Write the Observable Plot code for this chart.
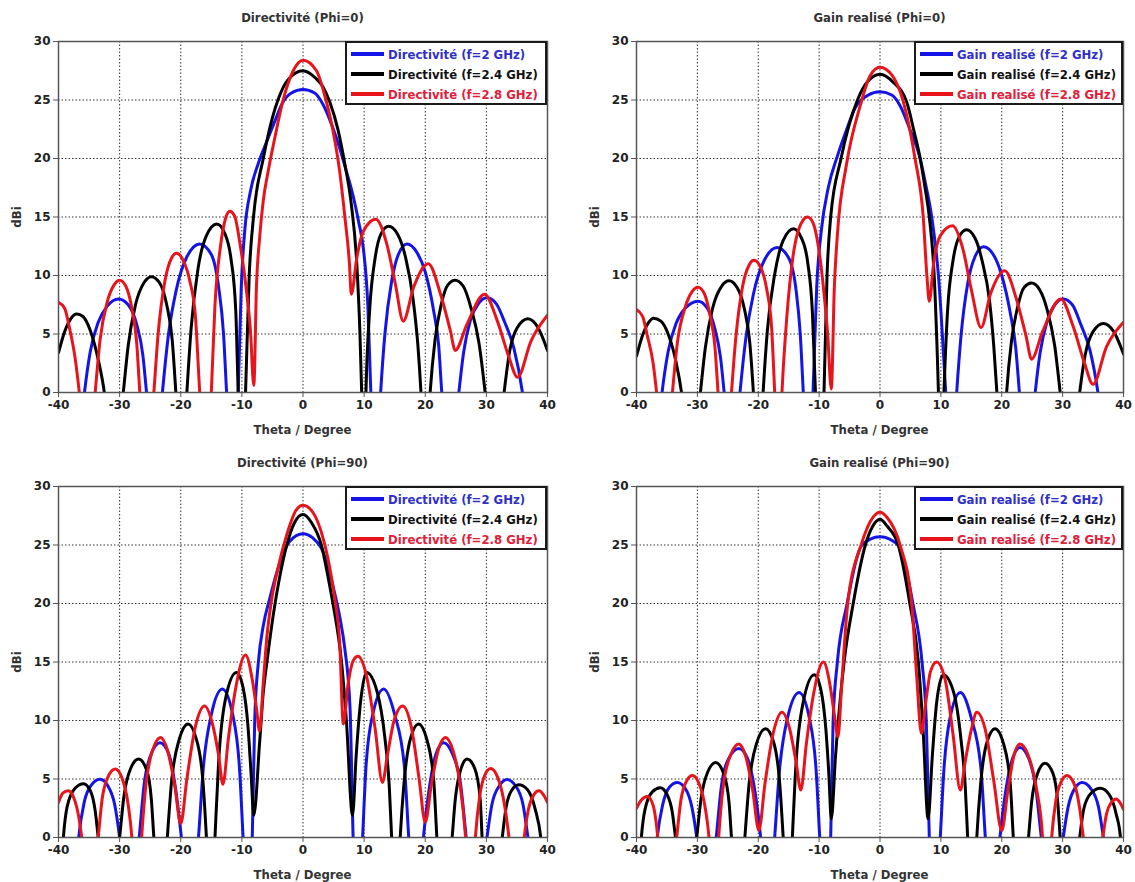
<!DOCTYPE html>
<html>
<head>
<meta charset="utf-8">
<script src="https://cdn.jsdelivr.net/npm/d3@7"></script>
<script src="https://cdn.jsdelivr.net/npm/@observablehq/plot@0.6"></script>
<style>
  body { margin: 0; background: #fff; }
  #root { position: relative; width: 1135px; height: 882px; background: #fff; overflow: hidden; }
  .panel { position: absolute; }
  .lbl { position: absolute; font-family: "DejaVu Sans Condensed", "DejaVu Sans", sans-serif; font-weight: bold; font-size: 13px; color: #333; white-space: nowrap; transform: translate(-50%, -50%); }
  .ylbl { transform: translate(-50%, -50%) rotate(-90deg); }
  .legend { position: absolute; background: #fff; border: 2px solid #1a1a1a; box-sizing: border-box; font-family: "DejaVu Sans Condensed", "DejaVu Sans", sans-serif; font-weight: bold; font-size: 13px; white-space: nowrap; }
  .row { position: absolute; left: 4px; height: 18px; display: flex; align-items: center; }
  .sw { display: inline-block; width: 33px; height: 4px; margin-right: 4px; }
</style>
</head>
<body>
<div id="root"></div>
<script>
// ---------- data (theta in degrees, value in dBi; values below 0 are clipped by the axis) ----------
const xTicks = [-40, -30, -20, -10, 0, 10, 20, 30, 40];
const yTicks = [0, 5, 10, 15, 20, 25, 30];
const freqLabels = ["f=2 GHz", "f=2.4 GHz", "f=2.8 GHz"];
const panelTitles = ["Directivité (Phi=0)", "Gain realisé (Phi=0)", "Directivité (Phi=90)", "Gain realisé (Phi=90)"];
const legendPrefixes = ["Directivité", "Gain realisé", "Directivité", "Gain realisé"];
const xAxisLabel = "Theta / Degree";
const yAxisLabel = "dBi";

// Panel 1: Directivité, Phi=0
const dirPhi0_2GHz = [[-40,-8],[-37.5,-10],[-35.75,0],[-34.8,3.5],[-33.5,6.0],[-32,7.4],[-30.2,8.0],[-28.6,7.5],[-27.2,5.8],[-26.2,3.2],[-25.6,0],[-24.3,-8],[-23.0,0],[-22.0,5.0],[-20.8,8.6],[-19.0,11.6],[-16.9,12.7],[-15.0,11.8],[-13.8,9.0],[-13.0,5.0],[-12.5,0],[-11.6,-8],[-10.6,0],[-10.1,9],[-9.5,14],[-8.6,17.2],[-7.3,19.6],[-5.9,21.5],[-4.6,23.2],[-3.3,24.8],[-1.9,25.6],[0,25.9],[1.9,25.6],[3.3,24.6],[4.9,22.6],[6.0,20.9],[7.1,18.9],[8.2,16.8],[9.1,14.6],[9.9,12.2],[10.6,7.5],[11.1,0],[11.9,-8],[12.7,0],[13.4,5.0],[14.5,9.5],[15.6,11.8],[17.0,12.7],[18.6,12.0],[20.0,10.3],[21.4,6.9],[22.2,4.0],[22.7,0],[24.1,-8],[25.5,0],[26.3,3.5],[27.4,6.2],[28.7,7.6],[30.1,8.1],[31.6,7.6],[33.0,6.0],[34.5,3.8],[35.9,0],[37.5,-8],[40,-8]];
const dirPhi0_24GHz = [[-40,3.4],[-39,5.2],[-38,6.3],[-37.0,6.7],[-36,6.5],[-34.8,5.3],[-33.5,2.8],[-32.5,0],[-31,-8],[-29.4,0],[-28.6,4.0],[-27.4,7.5],[-26,9.4],[-24.8,9.9],[-23.5,9.4],[-22.3,7.5],[-21.4,4.5],[-20.8,0],[-19.9,-8],[-19.0,0],[-18.3,5.5],[-17.2,10.5],[-15.8,13.4],[-14.1,14.4],[-12.8,13.6],[-11.8,11.5],[-11.0,7.0],[-10.6,0],[-10.0,-8],[-9.4,0],[-8.8,10],[-8.1,15],[-6.5,20],[-5.0,23.5],[-4.1,25],[-2.5,26.7],[0,27.5],[2.0,26.9],[3.3,26.1],[4.4,24.8],[5.75,22.4],[6.85,19.5],[7.9,16.1],[8.8,11],[9.3,5.3],[9.6,0],[10.0,-8],[10.3,0],[10.9,7],[11.8,11.5],[12.8,13.6],[14.0,14.2],[15.5,13.5],[16.8,11.5],[18.0,8.0],[18.8,4.0],[19.3,0],[20.0,-8],[20.8,0],[21.6,4.5],[22.6,7.5],[23.7,9.2],[24.9,9.6],[26.2,9.1],[27.5,7.2],[28.8,4.2],[29.8,0],[31.3,-8],[32.9,0],[33.8,3.5],[35.0,5.5],[36.8,6.3],[38.5,5.5],[40,3.6]];
const dirPhi0_28GHz = [[-40,7.7],[-39,7.2],[-38.2,5.5],[-37.3,3.0],[-36.6,0],[-35.3,-8],[-34.0,0],[-33.2,4.5],[-32.0,7.8],[-30.9,9.2],[-30.0,9.6],[-29,9.1],[-28.0,7.2],[-27.2,4.2],[-26.7,0],[-25.5,-8],[-24.4,0],[-23.7,5.0],[-22.6,9.5],[-21.5,11.5],[-20.7,11.9],[-19.6,11.3],[-18.5,9.5],[-17.6,6.5],[-16.9,0],[-16.0,-8],[-15.0,0],[-14.4,7.5],[-13.5,12.5],[-12.6,15.0],[-12.0,15.5],[-11.2,15.1],[-10.3,12.7],[-9.25,8.7],[-8.6,5.3],[-8.05,0.6],[-7.6,9.3],[-7.1,13.2],[-6.5,16.4],[-5.7,18.9],[-4.6,21.8],[-3.3,24.9],[-1.6,27.5],[0,28.4],[2.2,27.5],[3.8,24.9],[4.9,22.4],[6.0,18.9],[6.85,15],[7.6,11],[7.9,8.4],[8.8,11.5],[9.9,13.8],[11.9,14.8],[13.7,12.7],[15.1,9.3],[16.4,6.1],[18.1,9.0],[20.5,11.0],[22.5,8.4],[24.1,5.3],[24.9,3.6],[26.8,5.8],[29.7,8.4],[31.8,6.1],[33.7,3.0],[35.1,1.3],[37.3,4.4],[40,6.6]];

// Panel 2: Gain realisé, Phi=0
const gainPhi0_2GHz = [[-40,-8],[-37.5,-10],[-35.8,0],[-34.8,3.5],[-33.5,5.9],[-32,7.2],[-29.9,7.8],[-28.5,7.3],[-27.2,5.6],[-26.2,3.0],[-25.6,0],[-24.3,-8],[-23.0,0],[-22.0,4.8],[-20.8,8.4],[-19.0,11.3],[-16.9,12.4],[-15.0,11.5],[-13.8,8.8],[-13.1,5.0],[-12.6,0],[-11.8,-8],[-11.0,0],[-10.4,9],[-9.6,14],[-8.5,17.5],[-7.0,20.2],[-5.6,22.3],[-4.2,24.2],[-2,25.4],[0,25.7],[2,25.4],[3.3,24.5],[4.9,22.5],[6.6,20],[7.5,17.8],[8.5,15],[9.6,10],[10.8,0],[11.7,-8],[12.6,0],[13.3,4.8],[14.4,9.3],[15.6,11.6],[17.0,12.45],[18.6,11.8],[20.0,10.0],[21.4,6.8],[22.3,3.8],[22.9,0],[24.2,-8],[25.5,0],[26.3,3.4],[27.4,6.0],[28.7,7.5],[30.1,8.0],[31.6,7.5],[33.0,5.8],[34.5,3.6],[35.8,0],[37.5,-8],[40,-8]];
const gainPhi0_24GHz = [[-40,3.1],[-39,4.9],[-38,6.0],[-37.2,6.35],[-36,6.1],[-34.8,5.0],[-33.5,2.6],[-32.6,0],[-31,-8],[-29.5,0],[-28.7,3.8],[-27.5,7.2],[-26,9.1],[-24.8,9.55],[-23.5,9.0],[-22.3,7.2],[-21.4,4.3],[-20.8,0],[-20.0,-8],[-19.2,0],[-18.5,5.3],[-17.3,10.1],[-15.9,13.0],[-14.2,14.0],[-12.9,13.2],[-11.9,11.2],[-11.1,6.8],[-10.6,0],[-9.9,-8],[-9.2,0],[-8.7,10],[-8.1,15],[-6.4,20],[-3.7,25],[-2,26.6],[0,27.2],[2.2,26.5],[4.4,24.8],[5.6,22.3],[6.6,20],[7.4,17.5],[8.1,15],[8.9,10],[9.6,0],[10.0,-8],[10.5,0],[11.1,7],[12.0,11.3],[13.0,13.3],[14.2,13.9],[15.6,13.2],[16.8,11.2],[18.0,7.8],[18.7,3.9],[19.2,0],[20.0,-8],[20.8,0],[21.6,4.4],[22.6,7.3],[23.7,9.0],[24.9,9.35],[26.2,8.8],[27.5,7.0],[28.7,4.0],[29.6,0],[31.2,-8],[32.8,0],[33.7,3.2],[35.0,5.2],[36.7,5.9],[38.4,5.2],[40,3.3]];
const gainPhi0_28GHz = [[-40,7.1],[-39,6.5],[-38.2,4.8],[-37.3,2.6],[-36.7,0],[-35.4,-8],[-34.1,0],[-33.3,4.2],[-32,7.3],[-30.9,8.6],[-29.9,9.0],[-28.9,8.5],[-28,6.8],[-27.1,3.8],[-26.6,0],[-25.5,-8],[-24.4,0],[-23.7,4.6],[-22.6,9.0],[-21.5,10.9],[-20.7,11.3],[-19.6,10.7],[-18.6,8.8],[-17.8,5.5],[-17.3,0],[-16.7,-8],[-16.1,0],[-15.3,6.5],[-14.3,11.6],[-12.8,14.6],[-11.9,15.0],[-11.0,14.5],[-10.1,12.4],[-9.2,8.5],[-8.6,5.0],[-8.0,0.3],[-7.5,9],[-7.0,13.5],[-5.5,19.5],[-3.2,24.6],[-1.6,27.1],[0,27.8],[2.0,27.1],[3.8,24.9],[5.75,20],[7.1,15],[7.7,10],[8.1,7.8],[8.8,11],[9.9,13.4],[11.9,14.25],[13.6,12.3],[15.0,8.8],[16.6,5.55],[18.2,8.5],[20.5,10.4],[22.4,8.0],[24.0,4.8],[24.9,2.85],[26.7,5.2],[29.7,8.0],[31.7,5.7],[33.6,2.5],[35.0,0.7],[37.2,3.9],[40,6.0]];

// Panel 3: Directivité, Phi=90
const dirPhi90_2GHz = [[-40,-8],[-38,-10],[-36.7,0],[-35.8,3.0],[-34.6,4.5],[-33.2,4.98],[-31.9,4.4],[-30.8,2.8],[-30.0,0],[-28.5,-8],[-26.8,0],[-26.0,4.5],[-24.8,7.2],[-23.4,8.1],[-22.0,7.2],[-20.8,4.0],[-19.9,0],[-18.5,-8],[-17.1,0],[-16.3,6.0],[-15.0,10.5],[-13.2,12.7],[-11.5,10.5],[-10.4,6.0],[-9.8,0],[-9.0,-8],[-8.3,0],[-7.9,10],[-7.3,15],[-6.5,18.1],[-5.5,20.3],[-4.2,22.8],[-2.2,25.3],[0,25.96],[1.6,25.6],[3.3,24.4],[4.9,21.5],[6.0,18.9],[6.85,16.1],[7.7,11],[8.2,0],[9.0,-8],[9.75,0],[10.3,6.0],[11.4,10.5],[13.2,12.7],[15.0,10.5],[16.6,6.0],[17.3,0],[18.5,-8],[19.7,0],[20.6,4.0],[21.8,7.2],[23.0,8.1],[24.4,7.2],[25.8,4.5],[26.7,0],[28.5,-8],[30.1,0],[30.9,2.8],[32.1,4.4],[33.4,4.95],[34.8,4.4],[36.0,2.8],[36.8,0],[38.5,-8],[40,-8]];
const dirPhi90_24GHz = [[-40,-8],[-39.2,0],[-38.6,2.6],[-37.3,4.2],[-35.9,4.6],[-34.8,4.0],[-34.0,2.3],[-33.5,0],[-31.8,-8],[-30.0,0],[-29.3,3.5],[-28.2,5.9],[-26.9,6.7],[-25.6,5.8],[-24.8,3.2],[-24.4,0],[-23.3,-8],[-22.2,0],[-21.5,4.8],[-20.3,8.3],[-18.8,9.7],[-17.5,8.5],[-16.4,5.0],[-15.8,0],[-15.1,-8],[-14.4,0],[-13.8,6.5],[-12.7,11.8],[-10.9,14.1],[-9.8,12.8],[-9.0,9.5],[-8.5,5.5],[-8.05,1.9],[-7.1,8.1],[-6.5,12.4],[-5.9,15],[-4.9,18.9],[-3.8,22.3],[-2.7,24.9],[-1.4,26.9],[0,27.6],[1.4,26.9],[3.0,25],[4.2,22],[4.9,20],[6.3,15],[7.1,10],[8.1,1.9],[8.7,7],[9.4,11.5],[10.4,14.1],[12.1,12.5],[13.4,8.5],[14.1,4.5],[14.5,0],[15.2,-8],[15.9,0],[16.5,4.5],[17.6,8.5],[18.9,9.7],[20.3,8.3],[21.4,4.8],[21.9,0],[23.1,-8],[24.4,0],[24.9,3.2],[25.8,5.8],[26.85,6.7],[28.1,5.9],[29.0,3.2],[29.3,0],[31.0,-8],[32.6,0],[33.2,2.5],[34.1,4.0],[35.3,4.5],[36.7,4.1],[38.0,2.4],[38.9,0],[40,-8]];
const dirPhi90_28GHz = [[-40,3.0],[-39.3,3.8],[-38.4,4.0],[-37.5,3.4],[-36.7,1.8],[-36.2,0],[-34.8,-8],[-33.5,0],[-32.8,3.5],[-31.7,5.4],[-30.7,5.85],[-29.7,5.2],[-28.6,2.8],[-28.0,0],[-27.2,-8],[-26.4,0],[-25.7,4.5],[-24.5,7.6],[-23.3,8.55],[-22.2,7.5],[-21.0,4.5],[-20.0,1.2],[-19.0,5.0],[-17.6,9.5],[-16.1,11.25],[-14.8,9.7],[-13.8,7.0],[-13.1,4.55],[-12.2,8.5],[-11.0,12.8],[-9.4,15.6],[-8.3,13.5],[-7.6,11.0],[-7.1,9.1],[-6.5,13.2],[-5.9,17.2],[-5.2,20.1],[-4.1,23],[-2.7,25.8],[-1.1,28],[0,28.4],[1.6,27.8],[3.0,26.1],[4.1,23.8],[5.2,20.4],[6.0,16.7],[6.6,9.7],[7.4,13.2],[8.2,15.1],[9.0,15.5],[10.4,13.8],[11.8,9.3],[13.0,4.7],[13.8,7.0],[14.9,10.0],[16.3,11.25],[17.7,9.5],[19.0,5.0],[20.0,1.3],[21.0,4.5],[22.2,7.6],[23.3,8.55],[24.5,7.5],[25.7,4.5],[26.6,0],[27.4,-8],[28.2,0],[28.9,3.5],[29.8,5.4],[30.7,5.9],[31.8,5.2],[32.9,3.0],[33.7,0],[35.0,-8],[36.2,0],[36.8,2.2],[37.7,3.6],[38.6,4.0],[39.4,3.6],[40,3.0]];

// Panel 4: Gain realisé, Phi=90
const gainPhi90_2GHz = [[-40,-8],[-38,-10],[-36.6,0],[-35.7,2.8],[-34.6,4.3],[-33.3,4.7],[-32.0,4.2],[-30.9,2.6],[-30.1,0],[-28.5,-8],[-26.9,0],[-26.1,4.2],[-24.8,6.8],[-23.2,7.6],[-21.8,6.8],[-20.5,3.8],[-19.6,0],[-18.4,-8],[-17.3,0],[-16.5,5.8],[-15.2,10.2],[-13.3,12.4],[-11.6,10.2],[-10.5,5.8],[-9.9,0],[-9.0,-8],[-8.1,0],[-7.7,10],[-7.0,15],[-5.4,20],[-3.2,24.8],[-1.6,25.5],[0,25.7],[1.6,25.5],[3.2,24.8],[5.4,20],[6.9,15],[7.6,10],[8.1,0],[9.0,-8],[9.9,0],[10.5,5.8],[11.5,10.2],[13.2,12.4],[15.0,10.2],[16.6,5.8],[17.3,0],[18.5,-8],[19.7,0],[20.6,3.8],[21.8,6.8],[23.0,7.7],[24.4,6.8],[25.6,4.2],[26.5,0],[28.3,-8],[30.1,0],[30.9,2.6],[32.0,4.2],[33.2,4.7],[34.6,4.2],[35.9,2.6],[36.7,0],[38.5,-8],[40,-8]];
const gainPhi90_24GHz = [[-40,-8],[-39.2,0],[-38.6,2.4],[-37.4,3.9],[-36.1,4.25],[-35.0,3.7],[-34.1,2.1],[-33.6,0],[-31.8,-8],[-30.1,0],[-29.4,3.3],[-28.3,5.6],[-27.0,6.4],[-25.7,5.5],[-24.8,3.0],[-24.4,0],[-23.3,-8],[-22.2,0],[-21.5,4.6],[-20.3,8.0],[-18.8,9.3],[-17.5,8.2],[-16.5,4.8],[-15.9,0],[-15.1,-8],[-14.4,0],[-13.8,6.3],[-12.6,11.6],[-10.8,13.9],[-9.7,12.6],[-8.9,9.3],[-8.4,5.4],[-8.0,1.6],[-7.3,7],[-6.5,12],[-5.9,15],[-4.4,20],[-2.4,25],[-1.2,26.6],[0,27.2],[1.2,26.6],[3.0,25],[4.9,20],[6.3,15],[7.1,9],[7.9,1.6],[8.6,7],[9.3,11.5],[10.4,13.9],[12.1,12.4],[13.3,8.4],[14.0,4.4],[14.4,0],[15.2,-8],[15.9,0],[16.5,4.4],[17.6,8.2],[18.9,9.3],[20.3,8.0],[21.4,4.6],[21.9,0],[23.1,-8],[24.4,0],[24.9,3.0],[25.9,5.5],[27.1,6.35],[28.4,5.5],[29.2,3.0],[29.6,0],[31.2,-8],[32.8,0],[33.5,2.5],[34.7,3.8],[36.2,4.2],[37.6,3.7],[38.8,2.0],[39.5,0],[40,-8]];
const gainPhi90_28GHz = [[-40,2.5],[-39.2,3.2],[-38.2,3.5],[-37.3,2.8],[-36.8,1.4],[-36.5,0],[-35.0,-8],[-33.4,0],[-32.7,3.2],[-31.7,4.9],[-30.8,5.3],[-29.8,4.7],[-28.7,2.5],[-28.1,0],[-27.3,-8],[-26.5,0],[-25.8,4.2],[-24.5,7.1],[-23.2,8.0],[-22.1,7.0],[-20.9,4.0],[-19.9,0.6],[-18.9,4.6],[-17.5,9.0],[-16.1,10.7],[-14.8,9.2],[-13.8,6.5],[-13.0,4.05],[-12.1,8.0],[-10.9,12.3],[-9.3,15.0],[-8.2,13.0],[-7.5,10.5],[-6.9,8.6],[-6.3,13],[-5.3,20],[-3.1,25],[-1.1,27.4],[0,27.8],[1.1,27.4],[3.3,25],[5.2,20],[6.0,14],[6.8,8.9],[7.5,11.5],[8.3,14.2],[9.3,15.0],[10.7,13.5],[12.0,8.8],[13.2,4.05],[14.0,6.5],[15.0,9.2],[15.9,10.7],[17.3,9.2],[18.7,4.8],[20.0,0.6],[21.0,4.0],[22.0,7.0],[23.0,8.0],[24.3,7.1],[25.7,4.2],[26.7,0],[27.4,-8],[28.2,0],[28.9,3.2],[29.8,4.8],[30.7,5.3],[31.8,4.7],[32.8,2.5],[33.4,0],[35.0,-8],[36.6,0],[37.2,2.0],[38.0,3.0],[38.8,3.3],[39.4,3.0],[40,2.4]];

const panelSeries = [
  [dirPhi0_2GHz, dirPhi0_24GHz, dirPhi0_28GHz],
  [gainPhi0_2GHz, gainPhi0_24GHz, gainPhi0_28GHz],
  [dirPhi90_2GHz, dirPhi90_24GHz, dirPhi90_28GHz],
  [gainPhi90_2GHz, gainPhi90_24GHz, gainPhi90_28GHz]
];

// ---------- styling / layout ----------
const lineColors = ["#1414e6", "#000000", "#e8141c"];
const textColors = ["#3030c8", "#111111", "#e0203a"];

const layout = [
  {left: 0,   top: 0,   w: 567, h: 441, ml: 58, mr: 20, mt: 41, mb: 49},
  {left: 567, top: 0,   w: 568, h: 441, ml: 69, mr: 12, mt: 41, mb: 49},
  {left: 0,   top: 445, w: 567, h: 437, ml: 58, mr: 20, mt: 41, mb: 45},
  {left: 567, top: 445, w: 568, h: 437, ml: 69, mr: 12, mt: 41, mb: 45}
];

const root = document.getElementById("root");

function addLabel(text, x, y, cls) {
  const d = document.createElement("div");
  d.className = "lbl" + (cls ? " " + cls : "");
  d.textContent = text;
  d.style.left = x + "px";
  d.style.top = y + "px";
  root.appendChild(d);
}

layout.forEach((L, p) => {
  const series = panelSeries[p];
  const chart = Plot.plot({
    width: L.w, height: L.h,
    marginLeft: L.ml, marginRight: L.mr, marginTop: L.mt, marginBottom: L.mb,
    style: {fontFamily: "'DejaVu Sans', sans-serif", fontSize: "12px", fontWeight: "bold", color: "#222", background: "transparent", overflow: "visible"},
    x: {domain: [-40, 40]},
    y: {domain: [0, 30]},
    marks: [
      Plot.gridX(xTicks, {stroke: "#333", strokeOpacity: 1, strokeWidth: 1, strokeDasharray: "1.5,2"}),
      Plot.gridY(yTicks, {stroke: "#333", strokeOpacity: 1, strokeWidth: 1, strokeDasharray: "1.5,2"}),
      Plot.axisX(xTicks, {tickSize: 5, tickPadding: 3, tickFormat: d => String(d), label: null, stroke: "#555"}),
      Plot.axisY(yTicks, {tickSize: 5, tickPadding: 3, tickFormat: d => String(d), label: null, stroke: "#555"}),
      ...series.map((pts, i) => Plot.line(pts, {
        x: d => d[0], y: d => d[1],
        stroke: lineColors[i], strokeWidth: 3, curve: "monotone-x", clip: true
      })),
      Plot.frame({stroke: "#555", strokeWidth: 1.5})
    ]
  });
  const wrap = document.createElement("div");
  wrap.className = "panel";
  wrap.style.left = L.left + "px";
  wrap.style.top = L.top + "px";
  wrap.appendChild(chart);
  root.appendChild(wrap);

  const x0 = L.left + L.ml, x1 = L.left + L.w - L.mr;
  const y0 = L.top + L.mt, y1 = L.top + L.h - L.mb;
  const cx = (x0 + x1) / 2;
  addLabel(panelTitles[p], cx, y0 - 24);
  addLabel(xAxisLabel, cx, y1 + 37);
  addLabel(yAxisLabel, x0 - 42, (y0 + y1) / 2, "ylbl");

  const lw = p % 2 === 0 ? 202 : 209;
  const lg = document.createElement("div");
  lg.className = "legend";
  lg.style.left = (x1 - lw) + "px";
  lg.style.top = y0 + "px";
  lg.style.width = lw + "px";
  lg.style.height = "64px";
  freqLabels.forEach((f, i) => {
    const r = document.createElement("div");
    r.className = "row";
    r.style.top = (2 + i * 20) + "px";
    const sw = document.createElement("span");
    sw.className = "sw";
    sw.style.background = lineColors[i];
    const t = document.createElement("span");
    t.textContent = legendPrefixes[p] + " (" + f + ")";
    t.style.color = textColors[i];
    r.appendChild(sw);
    r.appendChild(t);
    lg.appendChild(r);
  });
  root.appendChild(lg);
});
</script>
</body>
</html>
